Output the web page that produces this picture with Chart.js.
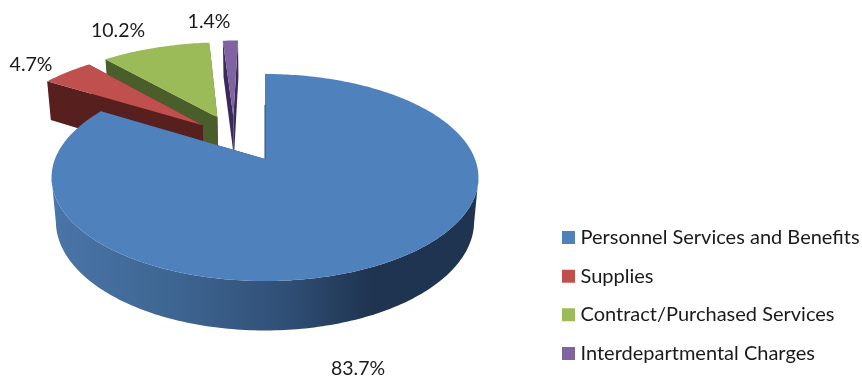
<!DOCTYPE html>
<html>
<head>
<meta charset="utf-8">
<style>html,body{margin:0;padding:0;background:#fff}#w{width:862px;height:377px}</style>
<script src="https://cdn.jsdelivr.net/npm/chart.js@4"></script>
</head>
<body>
<div id="w"><canvas id="c" width="862" height="377"></canvas></div>
<script>
const categories = ["Personnel Services and Benefits","Supplies","Contract/Purchased Services","Interdepartmental Charges"];
const values = [83.7,4.7,10.2,1.4];
const colors = ["#4f81bd","#c0504d","#9bbb59","#8064a2"];
const wallColors = ["#2f4f75","#571f1e","#4a5e2b","#3a2a5c"];
const radii = [1,1.04,1.02,1.04];

const P = {cx:265, cy:159, rx:210, ry:100.2, k:0.179, m:0.02, depth:44};
const sliceShift = [[0,0],[-0.316,0.359],[-0.245,0.45],[-0.163,0.46]];
const labelSpots = [[358,369],[31,64.5],[118,31],[209,22]];
function proj(u,v,z){
  const w = 1 + P.k*v + P.m*z;
  return [P.cx + P.rx*u/w, P.cy + (-P.ry*v + P.depth*z)/w];
}
const pie3d = {
  id:'pie3d',
  afterLayout(chart){
    const lg = chart.legend, pad = lg.options.labels.padding;
    lg.left = 566.5 - pad;
    lg.top = 227.5 - pad;
    lg.bottom = 420;
  },
  beforeDatasetDraw(chart,args){
    const ctx = chart.ctx, els = chart.getDatasetMeta(args.index).data;
    [3,2,1,0].forEach(i=>{
      const el = els[i], s = el.startAngle, e = el.endAngle, r = radii[i];
      const ox = sliceShift[i][0], oy = sliceShift[i][1];
      const pt = (a,rr,z)=>proj(ox+rr*Math.cos(a), oy-rr*Math.sin(a), z);
      const n = Math.max(2,Math.ceil((e-s)/(Math.PI/180)));
      const ang = j=>s+(e-s)*j/n;
      const poly = q=>{ctx.beginPath(); q.forEach((p,k)=>k?ctx.lineTo(p[0],p[1]):ctx.moveTo(p[0],p[1])); ctx.closePath();};
      // radial walls
      ctx.fillStyle = wallColors[i];
      [s,e].forEach(a=>{
        poly([pt(a,0,0),pt(a,r,0),pt(a,r,1),pt(a,0,1)]); ctx.fill();
      });
      // outer wall, front-facing part only, as one shape
      let fill = wallColors[i];
      if(i===0){
        const g = ctx.createLinearGradient(52,0,479,0);
        g.addColorStop(0,'#4a75a8'); g.addColorStop(0.3,'#3d6591');
        g.addColorStop(0.55,'#304f76'); g.addColorStop(0.75,'#1f3450'); g.addColorStop(1,'#1f3450');
        fill = g;
      }
      const front = [];
      for(let j=0;j<=n;j++){ if(-Math.sin(ang(j)) <= -P.k) front.push(ang(j)); }
      if(front.length>1){
        ctx.fillStyle = fill;
        poly(front.map(a=>pt(a,r,0)).concat(front.slice().reverse().map(a=>pt(a,r,1))));
        ctx.fill();
      }
      // top face
      ctx.fillStyle = colors[i];
      ctx.beginPath();
      const p0 = pt(s,0,0); ctx.moveTo(p0[0],p0[1]);
      for(let j=0;j<=n;j++){const p=pt(ang(j),r,0); ctx.lineTo(p[0],p[1]);}
      ctx.closePath(); ctx.fill();
      if(i===0){
        const a0=pt(s,0,0), a1=pt(s,0.6,0);
        ctx.strokeStyle=wallColors[0]; ctx.lineWidth=1;
        ctx.beginPath(); ctx.moveTo(a0[0],a0[1]); ctx.lineTo(a1[0],a1[1]); ctx.stroke();
      }
    });
    // labels
    ctx.fillStyle='#1a1a1a'; ctx.font='19.5px Lato'; ctx.textAlign='center'; ctx.textBaseline='middle';
    values.forEach((v,i)=>ctx.fillText(v.toFixed(1)+'%',labelSpots[i][0],labelSpots[i][1]));
    return false;
  }
};
new Chart(document.getElementById('c'),{
  type:'pie',
  data:{labels:categories,datasets:[{data:values,backgroundColor:colors,borderWidth:0}]},
  options:{
    responsive:false,animation:false,
    plugins:{
      tooltip:{enabled:false},
      legend:{position:'right',align:'start',
        labels:{boxWidth:4,boxHeight:4,padding:18.67,color:'#1a1a1a',
          font:{family:'Lato',size:20},
          generateLabels(chart){
            return Chart.overrides.pie.plugins.legend.labels.generateLabels(chart).map((it,i)=>
              Object.assign(it,{lineWidth:9,strokeStyle:colors[i],fillStyle:colors[i]}));
          }}}
    }
  },
  plugins:[pie3d]
});
</script>
</body>
</html>
